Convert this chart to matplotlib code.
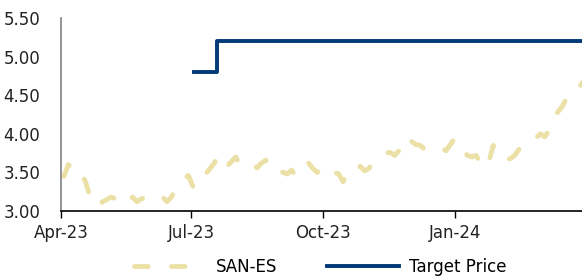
import pandas as pd
import matplotlib
matplotlib.use("Agg")
import matplotlib.pyplot as plt
import matplotlib.dates as mdates
from matplotlib.ticker import FormatStrFormatter

# SAN-ES price, one reading every 3 days from 2023-04-03
san_start = "2023-04-03"
san_values = [
    3.45, 3.60, 3.55, 3.57, 3.50, 3.38, 3.20, 3.10, 3.06, 3.12,
    3.15, 3.18, 3.16, 3.20, 3.14, 3.12, 3.18, 3.12, 3.16, 3.17,
    3.20, 3.18, 3.20, 3.18, 3.12, 3.18, 3.28, 3.35, 3.42, 3.46,
    3.32, 3.45, 3.50, 3.48, 3.55, 3.62, 3.72, 3.62, 3.58, 3.64,
    3.70, 3.60, 3.62, 3.59, 3.60, 3.56, 3.62, 3.66, 3.58, 3.52,
    3.55, 3.50, 3.48, 3.53, 3.45, 3.52, 3.55, 3.62, 3.55, 3.50,
    3.57, 3.58, 3.52, 3.50, 3.48, 3.38, 3.48, 3.52, 3.50, 3.58,
    3.52, 3.55, 3.62, 3.68, 3.72, 3.75, 3.76, 3.72, 3.78, 3.85,
    3.96, 3.90, 3.86, 3.85, 3.80, 3.82, 3.82, 3.80, 3.82, 3.78,
    3.86, 3.94, 3.88, 3.78, 3.72, 3.70, 3.72, 3.62, 3.56, 3.65,
    3.85, 3.72, 3.68, 3.66, 3.68, 3.72, 3.80, 3.82, 3.84, 3.88,
    3.95, 4.00, 3.96, 4.05, 4.20, 4.28, 4.35, 4.45, 4.52, 4.53,
    4.60, 4.68,
]
san_dates = pd.date_range(san_start, periods=len(san_values), freq="3D")

# Target price (step changes)
target_dates = pd.to_datetime(["2023-07-03", "2023-07-19", "2024-03-31"])
target_values = [4.80, 5.20, 5.20]

y_ticks = [3.00, 3.50, 4.00, 4.50, 5.00, 5.50]
x_ticks = pd.to_datetime(["2023-04-01", "2023-07-01", "2023-10-01", "2024-01-01"])

fig = plt.figure(figsize=(5.82, 2.78), dpi=100)
ax = fig.add_axes([0.105, 0.241, 0.895, 0.694])

ax.plot(san_dates, san_values, color="#EBE0A5", lw=3.5,
        dashes=(2.8, 4.8), dash_capstyle="round", solid_capstyle="round",
        label="SAN-ES")
ax.plot(target_dates, target_values, color="#003A78", lw=2.8,
        drawstyle="steps-post", label="Target Price")

ax.set_xlim(pd.Timestamp("2023-04-01"), pd.Timestamp("2024-03-30"))
ax.set_ylim(3.0, 5.5)
ax.set_yticks(y_ticks)
ax.yaxis.set_major_formatter(FormatStrFormatter("%.2f"))
ax.set_xticks(x_ticks)
ax.xaxis.set_major_formatter(mdates.DateFormatter("%b-%y"))

for side in ["top", "right"]:
    ax.spines[side].set_visible(False)
ax.spines["left"].set_color("#808080")
ax.spines["left"].set_linewidth(1.2)
ax.spines["bottom"].set_color("black")
ax.spines["bottom"].set_linewidth(1.2)

ax.tick_params(axis="y", length=0, pad=15, labelsize=12, labelcolor="#222222")
ax.tick_params(axis="x", length=5, width=1, pad=4, labelsize=12, labelcolor="#222222")

fig.legend(loc="lower center", bbox_to_anchor=(0.55, -0.045), ncol=2,
           frameon=False, fontsize=12, handlelength=4.3, columnspacing=3,
           handletextpad=0.6)

fig.savefig("out.png", dpi=100)
